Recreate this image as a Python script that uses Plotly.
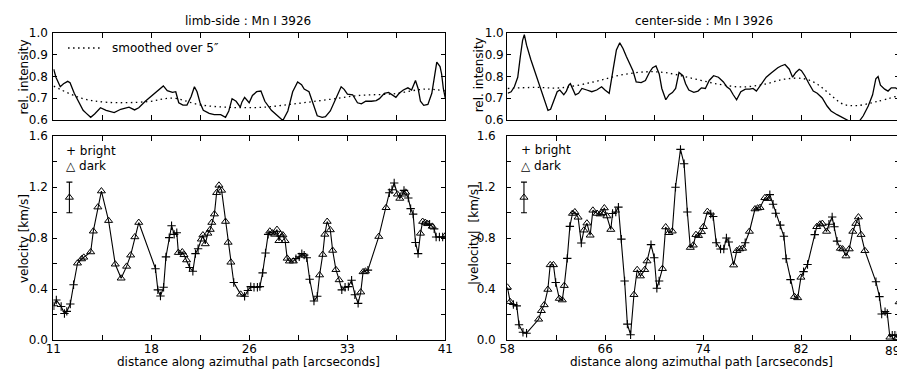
import plotly.graph_objects as go

# ---------------- data ----------------
# top panels: relative intensity along path
limb_int_x = [11.03, 11.20, 11.53, 11.78, 12.10, 12.28, 12.60, 12.90, 13.28, 13.53, 13.86, 14.16, 14.61, 15.04,
              15.66, 16.16, 16.79, 17.22, 17.54, 18.04, 18.67, 19.42, 19.72, 20.12, 20.37, 20.60, 20.92, 21.23,
              21.55, 21.80, 22.00, 22.23, 22.48, 22.93, 23.31, 23.81, 24.18, 24.43, 24.68, 24.99, 25.31, 25.44,
              25.64, 25.99, 26.24, 26.56, 26.89, 27.19, 27.69, 28.19, 28.57, 28.95, 29.32, 29.70, 30.00, 30.20,
              30.57, 30.82, 31.20, 31.58, 31.83, 32.20, 32.65, 33.03, 33.26, 33.51, 33.91, 34.28, 34.58, 34.91,
              35.34, 35.71, 35.96, 36.34, 36.66, 36.97, 37.22, 37.47, 37.79, 38.14, 38.42, 38.72, 38.92, 39.10,
              39.35, 39.67, 39.97, 40.35, 40.60, 40.72, 40.85, 41.00]
limb_int = [0.834, 0.797, 0.753, 0.767, 0.778, 0.772, 0.723, 0.686, 0.644, 0.630, 0.612, 0.627, 0.656, 0.644,
            0.634, 0.649, 0.659, 0.646, 0.656, 0.686, 0.719, 0.757, 0.735, 0.727, 0.730, 0.679, 0.668, 0.668,
            0.708, 0.753, 0.730, 0.679, 0.644, 0.630, 0.624, 0.624, 0.612, 0.641, 0.698, 0.686, 0.659, 0.683,
            0.704, 0.679, 0.713, 0.730, 0.733, 0.686, 0.644, 0.615, 0.597, 0.641, 0.730, 0.775, 0.763, 0.742,
            0.730, 0.686, 0.619, 0.612, 0.615, 0.641, 0.701, 0.753, 0.741, 0.719, 0.716, 0.679, 0.674, 0.686,
            0.686, 0.689, 0.698, 0.723, 0.727, 0.716, 0.704, 0.723, 0.738, 0.748, 0.738, 0.782, 0.745, 0.686,
            0.667, 0.671, 0.723, 0.867, 0.846, 0.812, 0.745, 0.701]
limb_smooth_x = [11.03, 13.16, 15.16, 18.17, 20.17, 22.18, 24.43, 26.94, 29.45, 31.95, 34.46, 36.97, 39.47, 41.0]
limb_smooth = [0.756, 0.700, 0.681, 0.684, 0.700, 0.670, 0.658, 0.658, 0.674, 0.693, 0.713, 0.720, 0.742, 0.734]

center_int_x = [58.05, 58.32, 58.58, 58.85, 59.06, 59.24, 59.38, 59.56, 59.90, 60.43, 60.96, 61.28, 61.49, 61.81,
                62.02, 62.23, 62.42, 62.55, 62.76, 62.95, 63.08, 63.29, 63.48, 63.74, 64.01, 64.40, 64.80, 65.20,
                65.59, 65.86, 66.20, 66.52, 66.78, 67.05, 67.31, 67.58, 67.84, 68.11, 68.37, 68.77, 69.11, 69.43,
                69.69, 69.96, 70.22, 70.43, 70.75, 71.02, 71.28, 71.54, 71.81, 72.13, 72.34, 72.60, 73.00, 73.34,
                73.61, 73.93, 74.24, 74.59, 74.98, 75.38, 75.65, 75.91, 76.17, 76.44, 76.78, 77.15, 77.50, 77.76,
                78.03, 78.42, 78.82, 79.22, 79.43, 79.75, 80.01, 80.33, 80.67, 80.94, 81.20, 81.47, 81.65, 81.92,
                82.26, 82.60, 82.92, 83.32, 83.71, 84.03, 84.51, 84.90, 85.25, 85.70, 86.23, 86.62, 87.02, 87.37,
                87.63, 87.81, 88.00, 88.34, 88.61, 88.87, 89.21, 89.40, 89.48]
center_int = [0.723, 0.730, 0.753, 0.797, 0.893, 0.967, 0.994, 0.945, 0.879, 0.790, 0.701, 0.644, 0.649, 0.701,
              0.730, 0.738, 0.723, 0.716, 0.733, 0.760, 0.767, 0.742, 0.716, 0.723, 0.745, 0.738, 0.730, 0.738,
              0.753, 0.738, 0.723, 0.834, 0.923, 0.956, 0.930, 0.893, 0.864, 0.827, 0.775, 0.772, 0.782, 0.819,
              0.841, 0.849, 0.812, 0.745, 0.693, 0.716, 0.726, 0.745, 0.819, 0.804, 0.767, 0.738, 0.727, 0.733,
              0.748, 0.745, 0.782, 0.804, 0.797, 0.775, 0.753, 0.742, 0.716, 0.693, 0.730, 0.742, 0.742, 0.745,
              0.733, 0.767, 0.797, 0.816, 0.827, 0.841, 0.849, 0.856, 0.834, 0.797, 0.819, 0.834, 0.827, 0.804,
              0.767, 0.733, 0.723, 0.701, 0.664, 0.641, 0.624, 0.612, 0.600, 0.588, 0.588, 0.619, 0.664, 0.716,
              0.790, 0.800, 0.760, 0.742, 0.733, 0.748, 0.748, 0.742, 0.693]
center_smooth_x = [58.05, 60.17, 62.29, 64.93, 67.05, 69.16, 70.75, 72.87, 74.98, 76.84, 78.69, 80.28, 81.86,
                   82.92, 83.98, 85.03, 86.10, 87.68, 89.48]
center_smooth = [0.745, 0.750, 0.748, 0.775, 0.806, 0.822, 0.818, 0.792, 0.765, 0.752, 0.765, 0.788, 0.790,
                 0.765, 0.716, 0.672, 0.666, 0.684, 0.712]

# bottom panels: velocity; kind b = bright (+), d = dark (triangle); rows of 7 aligned
limb_x = [11.04, 11.23, 11.60, 11.85, 12.03, 12.30, 12.55,
          12.85, 13.16, 13.33, 13.86, 14.06, 14.41, 14.68,
          15.23, 15.74, 16.19, 16.61, 16.92, 17.24, 17.54,
          18.82, 19.00, 19.20, 19.44, 19.62, 19.87, 20.05,
          20.25, 20.45, 20.57, 20.87, 21.00, 21.20, 21.43,
          21.68, 21.88, 22.08, 22.33, 22.45, 22.63, 22.83,
          23.01, 23.13, 23.33, 23.50, 23.68, 23.88, 24.18,
          24.38, 24.59, 24.81, 25.34, 25.64, 25.89, 26.11,
          26.36, 26.62, 26.81, 27.02, 27.24, 27.44, 27.57,
          27.77, 27.94, 28.12, 28.27, 28.39, 28.57, 28.74,
          28.90, 29.07, 29.37, 29.57, 29.82, 30.02, 30.20,
          30.40, 30.62, 30.95, 31.20, 31.38, 31.62, 31.78,
          31.96, 32.20, 32.38, 32.63, 32.88, 33.08, 33.33,
          33.58, 33.83, 34.08, 34.33, 34.53, 34.71, 34.89,
          35.08, 35.91, 36.47, 36.72, 36.92, 37.09, 37.34,
          37.52, 37.72, 37.84, 37.97, 38.17, 38.35, 38.54,
          38.72, 38.92, 39.10, 39.27, 39.47, 39.65, 39.80,
          40.00, 40.15, 40.30, 40.55, 40.80, 41.00]
limb_v = [0.270, 0.315, 0.264, 0.209, 0.226, 0.284, 0.435,
          0.604, 0.637, 0.650, 0.692, 0.855, 1.044, 1.170,
          0.938, 0.596, 0.486, 0.579, 0.667, 0.810, 0.923,
          0.561, 0.395, 0.347, 0.415, 0.654, 0.805, 0.898,
          0.830, 0.843, 0.687, 0.692, 0.670, 0.629, 0.570,
          0.541, 0.679, 0.717, 0.792, 0.825, 0.755, 0.838,
          0.868, 0.923, 0.989, 1.157, 1.215, 1.175, 0.931,
          0.767, 0.611, 0.453, 0.360, 0.345, 0.390, 0.420,
          0.415, 0.415, 0.420, 0.528, 0.684, 0.830, 0.855,
          0.840, 0.830, 0.868, 0.780, 0.830, 0.825, 0.780,
          0.642, 0.620, 0.620, 0.640, 0.654, 0.679, 0.667,
          0.647, 0.478, 0.307, 0.345, 0.511, 0.672, 0.830,
          0.931, 0.865, 0.704, 0.553, 0.473, 0.395, 0.415,
          0.420, 0.470, 0.357, 0.289, 0.377, 0.536, 0.541,
          0.550, 0.813, 1.039, 1.157, 1.180, 1.233, 1.145,
          1.112, 1.145, 1.175, 1.160, 1.115, 1.032, 0.989,
          0.767, 0.679, 0.838, 0.931, 0.923, 0.913, 0.910,
          0.893, 0.873, 0.810, 0.810, 0.810, 0.818]
limb_kind = ["bbbbbbb", "ddddddd", "ddddddd", "bbbbbbb", "bbddddb", "bbbdddd", "ddddddd", "ddbdbbb",
             "bbbbbbd", "ddddddd", "dddbbbb", "bbbbddd", "dddddbb", "bbbbddd", "bddbbbd", "ddbdbbb",
             "bbddddb", "dbbbbd"]

center_x = [58.02, 58.24, 58.50, 58.77, 58.95, 59.27, 59.56,
            60.53, 60.75, 60.98, 61.27, 61.46, 61.72, 61.90,
            62.19, 62.43, 62.59, 62.83, 63.04, 63.25, 63.44,
            63.70, 63.96, 64.17, 64.41, 64.67, 64.89, 65.23,
            65.46, 65.62, 65.81, 66.02, 66.33, 66.47, 66.73,
            66.94, 67.18, 67.44, 67.66, 67.92, 68.19, 68.45,
            68.71, 69.06, 69.24, 69.56, 69.82, 70.03, 70.21,
            70.48, 70.74, 71.00, 71.27, 71.53, 71.93, 72.22,
            72.48, 72.72, 72.96, 73.17, 73.38, 73.62, 73.77,
            74.09, 74.36, 74.56, 74.80, 75.15, 75.41, 75.62,
            75.81, 76.20, 76.46, 76.68, 76.92, 77.13, 77.47,
            77.92, 78.13, 78.32, 78.71, 78.92, 79.11, 79.37,
            79.58, 79.95, 80.24, 80.42, 80.77, 81.09, 81.35,
            81.61, 81.82, 82.14, 82.72, 82.88, 83.14, 83.33,
            83.67, 83.86, 84.12, 84.30, 84.51, 84.78, 84.96,
            85.23, 85.49, 85.78, 86.02, 86.23, 86.44, 86.75,
            87.64, 87.92, 88.10, 88.37, 88.55, 88.76, 88.95,
            89.16, 89.34, 89.50]
center_v = [0.415, 0.302, 0.280, 0.269, 0.121, 0.063, 0.055,
            0.164, 0.231, 0.277, 0.398, 0.591, 0.591, 0.453,
            0.327, 0.315, 0.428, 0.642, 0.893, 0.994, 1.006,
            0.964, 0.762, 0.863, 0.918, 0.823, 1.019, 0.994,
            0.989, 0.999, 1.037, 0.974, 0.868, 0.994, 1.006,
            1.044, 0.793, 0.465, 0.126, 0.043, 0.357, 0.553,
            0.503, 0.553, 0.621, 0.750, 0.647, 0.408, 0.465,
            0.561, 0.888, 0.843, 0.855, 1.200, 1.497, 1.384,
            1.006, 0.727, 0.745, 0.828, 0.820, 0.850, 0.890,
            1.009, 0.990, 0.970, 0.765, 0.715, 0.715, 0.802,
            0.770, 0.589, 0.702, 0.715, 0.720, 0.765, 0.853,
            1.029, 1.036, 1.040, 1.117, 1.110, 1.142, 1.067,
            0.996, 0.903, 0.815, 0.639, 0.475, 0.342, 0.332,
            0.493, 0.538, 0.594, 0.828, 0.890, 0.910, 0.915,
            0.853, 0.910, 0.966, 0.890, 0.777, 0.720, 0.715,
            0.660, 0.715, 0.853, 0.915, 0.966, 0.828, 0.702,
            0.458, 0.342, 0.206, 0.224, 0.210, 0.023, 0.040,
            0.040, 0.020, 0.300]
center_kind = ["ddbbbbb", "ddddddb", "dddbbdd", "dbddddd", "dddddbb", "bbbbbdd", "dddbbbb", "ddddbbb",
               "bdddddd", "dbbbbbb", "bddddbd", "dddddbb", "bbbbbdd", "dbbbddd", "dbbbbdd", "ddddddd",
               "bbbbbdb", "bdd"]

# typical error bar
err_x_limb, err_x_center = 12.23, 59.35
err_y = [1.12]
err_size = [0.12]

x_limb_ticks = ["11", "", "18", "", "26", "", "33", "", "41"]
x_center_ticks = ["58", "", "66", "", "74", "", "82", "", ""]
x_center_last = "89"
x_limb_range = [11, 41]
x_center_range = [58, 89.5]
int_range = [0.6, 1.0]
vel_range = [0.0, 1.6]

# ---------------- figure ----------------
FONT = "DejaVu Sans"
W, H = 905, 370
fig = go.Figure()


def px_x(p):
    return p / W


def px_y(p):
    return 1 - p / H


line_style = dict(color="black", width=1.3)
dot_style = dict(color="black", width=1.3, dash="1.5px,3.5px")

fig.add_trace(go.Scatter(x=limb_int_x, y=limb_int, mode="lines", line=line_style, xaxis="x", yaxis="y"))
fig.add_trace(go.Scatter(x=limb_smooth_x, y=limb_smooth, mode="lines", line=dot_style, line_shape="spline",
                         xaxis="x", yaxis="y"))
fig.add_trace(go.Scatter(x=center_int_x, y=center_int, mode="lines", line=line_style, xaxis="x3", yaxis="y3"))
fig.add_trace(go.Scatter(x=center_smooth_x, y=center_smooth, mode="lines", line=dot_style, line_shape="spline",
                         xaxis="x3", yaxis="y3"))


def vel_panel(xs, vs, kind_rows, xa, ya, ex):
    kinds = "".join(kind_rows)
    fig.add_trace(go.Scatter(x=xs, y=vs, mode="lines", line=dict(color="black", width=1.1), xaxis=xa, yaxis=ya))
    bx = [x for x, k in zip(xs, kinds) if k == "b"]
    by = [v for v, k in zip(vs, kinds) if k == "b"]
    dx = [x for x, k in zip(xs, kinds) if k == "d"]
    dy = [v for v, k in zip(vs, kinds) if k == "d"]
    fig.add_trace(go.Scatter(x=bx, y=by, mode="markers", xaxis=xa, yaxis=ya,
                             marker=dict(symbol="cross-thin-open", size=6, color="black",
                                         line=dict(color="black", width=1.1))))
    fig.add_trace(go.Scatter(x=dx, y=dy, mode="markers", xaxis=xa, yaxis=ya,
                             marker=dict(symbol="triangle-up-open", size=7, color="black",
                                         line=dict(color="black", width=1))))
    fig.add_trace(go.Scatter(x=[ex], y=err_y, mode="markers", xaxis=xa, yaxis=ya,
                             marker=dict(symbol="triangle-up-open", size=7, color="black",
                                         line=dict(color="black", width=1)),
                             error_y=dict(type="data", array=err_size, color="black", thickness=1.1, width=3)))


vel_panel(limb_x, limb_v, limb_kind, "x2", "y2", err_x_limb)
vel_panel(center_x, center_v, center_kind, "x4", "y4", err_x_center)

tick_font = dict(family=FONT, size=12, color="black")
common_ax = dict(showline=True, linecolor="black", linewidth=1, mirror="ticks", ticks="inside",
                 tickcolor="black", tickwidth=1, showgrid=False, zeroline=False, tickfont=tick_font,
                 fixedrange=True)


def xticks(rng):
    step = (rng[1] - rng[0]) / 8
    return [rng[0] + i * step for i in range(9)]


dom_l = [px_x(38), px_x(437)]
dom_r = [px_x(500), px_x(899)]
dom_top = [px_y(109), px_y(19)]
dom_bot = [px_y(338), px_y(126)]
vel_ticks = [0, 0.2, 0.4, 0.6, 0.8, 1.0, 1.2, 1.4, 1.6]
vel_text = ["0.0", "", "0.4", "", "0.8", "", "1.2", "", "1.6"]

fig.update_layout(
    width=W, height=H, margin=dict(l=0, r=0, t=0, b=0),
    paper_bgcolor="white", plot_bgcolor="white", showlegend=False,
    font=dict(family=FONT, size=12, color="black"),
    xaxis=dict(common_ax, domain=dom_l, anchor="y", range=x_limb_range, tickvals=xticks(x_limb_range),
               showticklabels=False, ticklen=5),
    yaxis=dict(common_ax, domain=dom_top, anchor="x", range=int_range, tickvals=[0.6, 0.7, 0.8, 0.9, 1.0],
               tickformat=".1f", ticklen=4, ticklabelstandoff=2),
    xaxis2=dict(common_ax, domain=dom_l, anchor="y2", range=x_limb_range, tickvals=xticks(x_limb_range),
                ticktext=x_limb_ticks, ticklen=5, ticklabelstandoff=-3),
    yaxis2=dict(common_ax, domain=dom_bot, anchor="x2", range=vel_range, tickvals=vel_ticks,
                ticktext=vel_text, ticklen=4, ticklabelstandoff=2),
    xaxis3=dict(common_ax, domain=dom_r, anchor="y3", range=x_center_range, tickvals=xticks(x_center_range),
                showticklabels=False, ticklen=5),
    yaxis3=dict(common_ax, domain=dom_top, anchor="x3", range=int_range, tickvals=[0.6, 0.7, 0.8, 0.9, 1.0],
                tickformat=".1f", ticklen=4),
    xaxis4=dict(common_ax, domain=dom_r, anchor="y4", range=x_center_range, tickvals=xticks(x_center_range),
                ticktext=x_center_ticks, ticklen=5, ticklabelstandoff=-3),
    yaxis4=dict(common_ax, domain=dom_bot, anchor="x4", range=vel_range, tickvals=vel_ticks,
                ticktext=vel_text, ticklen=4, ticklabelstandoff=8),
)

ann_font = dict(family=FONT, size=12, color="black")
annots = [
    ("limb-side : Mn I 3926", 236, 6.5, 0),
    ("center-side : Mn I 3926", 700, 6.5, 0),
    ("distance along azimuthal path [arcseconds]", 237, 361, 0),
    ("distance along azimuthal path [arcseconds]", 698, 361, 0),
    (x_center_last, 892, 349, 0),
    ("rel. intensity", 8, 64, -90),
    ("rel. intensity", 471, 62, -90),
    ("velocity [km/s]", 8, 232, -90),
    ("|velocity|  [km/s]", 467, 228, -90),
]
for text, x, y, ang in annots:
    fig.add_annotation(text=text, x=px_x(x), y=px_y(y), xref="paper", yref="paper", showarrow=False,
                       xanchor="center", yanchor="middle", textangle=ang, font=ann_font, borderpad=0)

for text, x, y in [("+ bright", 49, 141.5), ("\u25b3 dark", 49, 157),
                   ("+ bright", 512, 140.5), ("\u25b3 dark", 512, 156.5)]:
    fig.add_annotation(text=text, x=px_x(x), y=px_y(y), xref="paper", yref="paper", showarrow=False,
                       xanchor="left", yanchor="middle", font=ann_font)

fig.add_shape(type="line", xref="paper", yref="paper", x0=px_x(53), x1=px_x(88), y0=px_y(34.3), y1=px_y(34.3),
              line=dot_style)
fig.add_annotation(text="smoothed over 5\u2033", x=px_x(96), y=px_y(34), xref="paper", yref="paper",
                   showarrow=False, xanchor="left", yanchor="middle", font=ann_font)

fig.write_html("out.html")
